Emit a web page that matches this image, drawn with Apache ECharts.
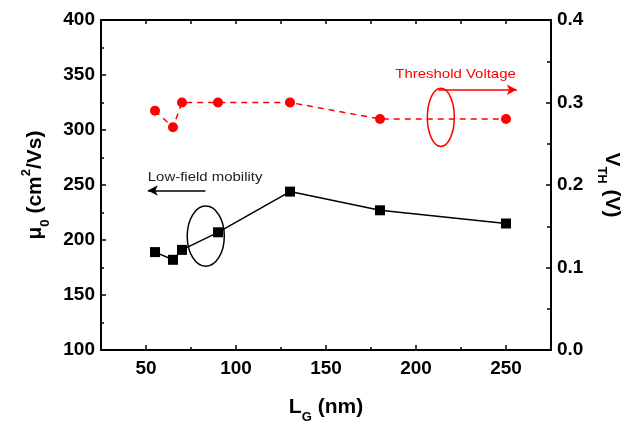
<!DOCTYPE html>
<html>
<head>
<meta charset="utf-8">
<script src="https://cdn.jsdelivr.net/npm/echarts@6/dist/echarts.min.js"></script>
<style>html,body{margin:0;padding:0;background:#fff;}#c{width:627px;height:426px;}</style>
</head>
<body>
<div id="c"></div>
<script>
const gateLength = [55, 65, 70, 90, 130, 180, 250];
const mobility = [189, 182, 191, 207, 244, 227, 215];
const vth = [0.29, 0.27, 0.30, 0.30, 0.30, 0.28, 0.28];
const xMajor = [50, 100, 150, 200, 250];
const xMinor = [75, 125, 175, 225];
const xTop = [50, 75, 100, 125, 150, 175, 200, 225, 250];

const FONT = '"Liberation Sans", Arial, sans-serif';
const chart = echarts.init(document.getElementById('c'), null, {renderer: 'canvas'});

const xBase = {
  type: 'value', min: 25, max: 275,
  splitLine: {show: false},
  axisLine: {lineStyle: {color: '#000', width: 2}}
};

const option = {
  animation: false,
  grid: {left: 101, right: 76, top: 20, bottom: 76, containLabel: false, outerBoundsMode: 'none'},
  xAxis: [
    Object.assign({}, xBase, {
      position: 'bottom',
      name: '{a|L}{sub|G}{a| (nm)}',
      nameLocation: 'middle', nameGap: 42,
      nameTextStyle: {rich: {
        a: {fontFamily: FONT, fontWeight: 'bold', fontSize: 21, color: '#000', lineHeight: 26, verticalAlign: 'bottom'},
        sub: {fontFamily: FONT, fontWeight: 'bold', fontSize: 13, color: '#000', lineHeight: 26, verticalAlign: 'bottom', padding: [0, 0, -6, 0]}
      }},
      axisTick: {inside: true, length: 5, customValues: xMajor, lineStyle: {color: '#000', width: 1.5}},
      axisLabel: {customValues: xMajor, fontFamily: FONT, fontWeight: 'bold', fontSize: 19, color: '#000', margin: 9}
    }),
    Object.assign({}, xBase, {
      position: 'bottom',
      axisLine: {show: false},
      axisTick: {inside: true, length: 3, customValues: xMinor, lineStyle: {color: '#000', width: 1.5}},
      axisLabel: {show: false}
    }),
    Object.assign({}, xBase, {
      position: 'top',
      axisTick: {inside: true, length: 4, customValues: xTop, lineStyle: {color: '#000', width: 1.5}},
      axisLabel: {show: false}
    })
  ],
  yAxis: [
    {
      type: 'value', min: 100, max: 400, interval: 50, position: 'left',
      splitLine: {show: false},
      axisLine: {show: true, lineStyle: {color: '#000', width: 2}},
      axisTick: {show: true, inside: true, length: 5, lineStyle: {color: '#000', width: 1.5}},
      minorTick: {show: true, splitNumber: 2, length: 3, lineStyle: {color: '#000', width: 1.5}},
      axisLabel: {fontFamily: FONT, fontWeight: 'bold', fontSize: 19, color: '#000', margin: 6},
      name: '{a|μ}{sub|0}{a| (cm}{sup|2}{a|/Vs)}',
      nameLocation: 'middle', nameGap: 55, nameRotate: 90,
      nameTextStyle: {rich: {
        a: {fontFamily: FONT, fontWeight: 'bold', fontSize: 21, color: '#000', lineHeight: 26, verticalAlign: 'bottom'},
        sub: {fontFamily: FONT, fontWeight: 'bold', fontSize: 13, color: '#000', lineHeight: 26, verticalAlign: 'bottom', padding: [0, 0, -6, 0]},
        sup: {fontFamily: FONT, fontWeight: 'bold', fontSize: 13, color: '#000', lineHeight: 26, verticalAlign: 'top', padding: [0, 0, 0, 0]}
      }}
    },
    {
      type: 'value', min: 0, max: 0.4, interval: 0.1, position: 'right',
      splitLine: {show: false},
      axisLine: {show: true, lineStyle: {color: '#000', width: 2}},
      axisTick: {show: true, inside: true, length: 5, lineStyle: {color: '#000', width: 1.5}},
      minorTick: {show: true, splitNumber: 2, length: 4, lineStyle: {color: '#000', width: 1.5}},
      axisLabel: {fontFamily: FONT, fontWeight: 'bold', fontSize: 19, color: '#000', margin: 6,
        formatter: v => v.toFixed(1)},
      name: '{a|V}{sub|TH}{a| (V)}',
      nameLocation: 'middle', nameGap: 50, nameRotate: -90,
      nameTextStyle: {rich: {
        a: {fontFamily: FONT, fontWeight: 'bold', fontSize: 21, color: '#000', lineHeight: 26, verticalAlign: 'bottom'},
        sub: {fontFamily: FONT, fontWeight: 'bold', fontSize: 13, color: '#000', lineHeight: 26, verticalAlign: 'bottom', padding: [0, 0, -6, 0]}
      }}
    }
  ],
  series: [
    {
      type: 'line', name: 'Low-field mobility', xAxisIndex: 0, yAxisIndex: 0,
      data: gateLength.map((x, i) => [x, mobility[i]]),
      symbol: 'rect', symbolSize: 10,
      itemStyle: {color: '#000'},
      lineStyle: {color: '#000', width: 1.5},
      z: 5,
      markLine: {
        silent: true, symbol: ['none', 'arrow'], symbolSize: [8, 10],
        lineStyle: {color: '#000', width: 1.5, type: 'solid'},
        label: {show: false},
        data: [[{coord: [83, 245]}, {coord: [51, 245]}]]
      }
    },
    {
      type: 'line', name: 'Threshold Voltage', xAxisIndex: 0, yAxisIndex: 1,
      data: gateLength.map((x, i) => [x, vth[i]]),
      symbol: 'circle', symbolSize: 10,
      itemStyle: {color: '#f00'},
      lineStyle: {color: '#f00', width: 1.5, type: [6, 5]},
      z: 5,
      markLine: {
        silent: true, symbol: ['none', 'arrow'], symbolSize: [8, 10],
        lineStyle: {color: '#f00', width: 1.5, type: 'solid'},
        label: {show: false},
        data: [[{coord: [212.5, 0.3155]}, {coord: [256, 0.3155]}]]
      }
    }
  ]
};
chart.setOption(option);

function px(x, y, axis) {
  return chart.convertToPixel({xAxisIndex: 0, yAxisIndex: axis}, [x, y]);
}
const e1 = px(83.2, 203.5, 0), e1s = px(83.2 + 10.3, 203.5 - 27.3, 0);
const e2 = px(213.8, 0.282, 1), e2s = px(213.8 + 7.5, 0.282 - 0.0352, 1);
const t1 = px(51, 257, 0), t2 = px(188.5, 0.3335, 1);
chart.setOption({
  graphic: [
    {type: 'ellipse', shape: {cx: e1[0], cy: e1[1], rx: e1s[0] - e1[0], ry: e1s[1] - e1[1]},
      style: {fill: 'none', stroke: '#000', lineWidth: 1.5}, z: 10},
    {type: 'ellipse', shape: {cx: e2[0], cy: e2[1], rx: e2s[0] - e2[0], ry: e2s[1] - e2[1]},
      style: {fill: 'none', stroke: '#f00', lineWidth: 1.5}, z: 10},
    {type: 'text', x: t1[0], y: t1[1], scaleX: 1.15, style: {text: 'Low-field mobility', fill: '#222', font: '13px ' + FONT, textVerticalAlign: 'middle'}, z: 10},
    {type: 'text', x: t2[0], y: t2[1], scaleX: 1.15, style: {text: 'Threshold Voltage', fill: '#f00', font: '13px ' + FONT, textVerticalAlign: 'middle'}, z: 10}
  ]
});
</script>
</body>
</html>
